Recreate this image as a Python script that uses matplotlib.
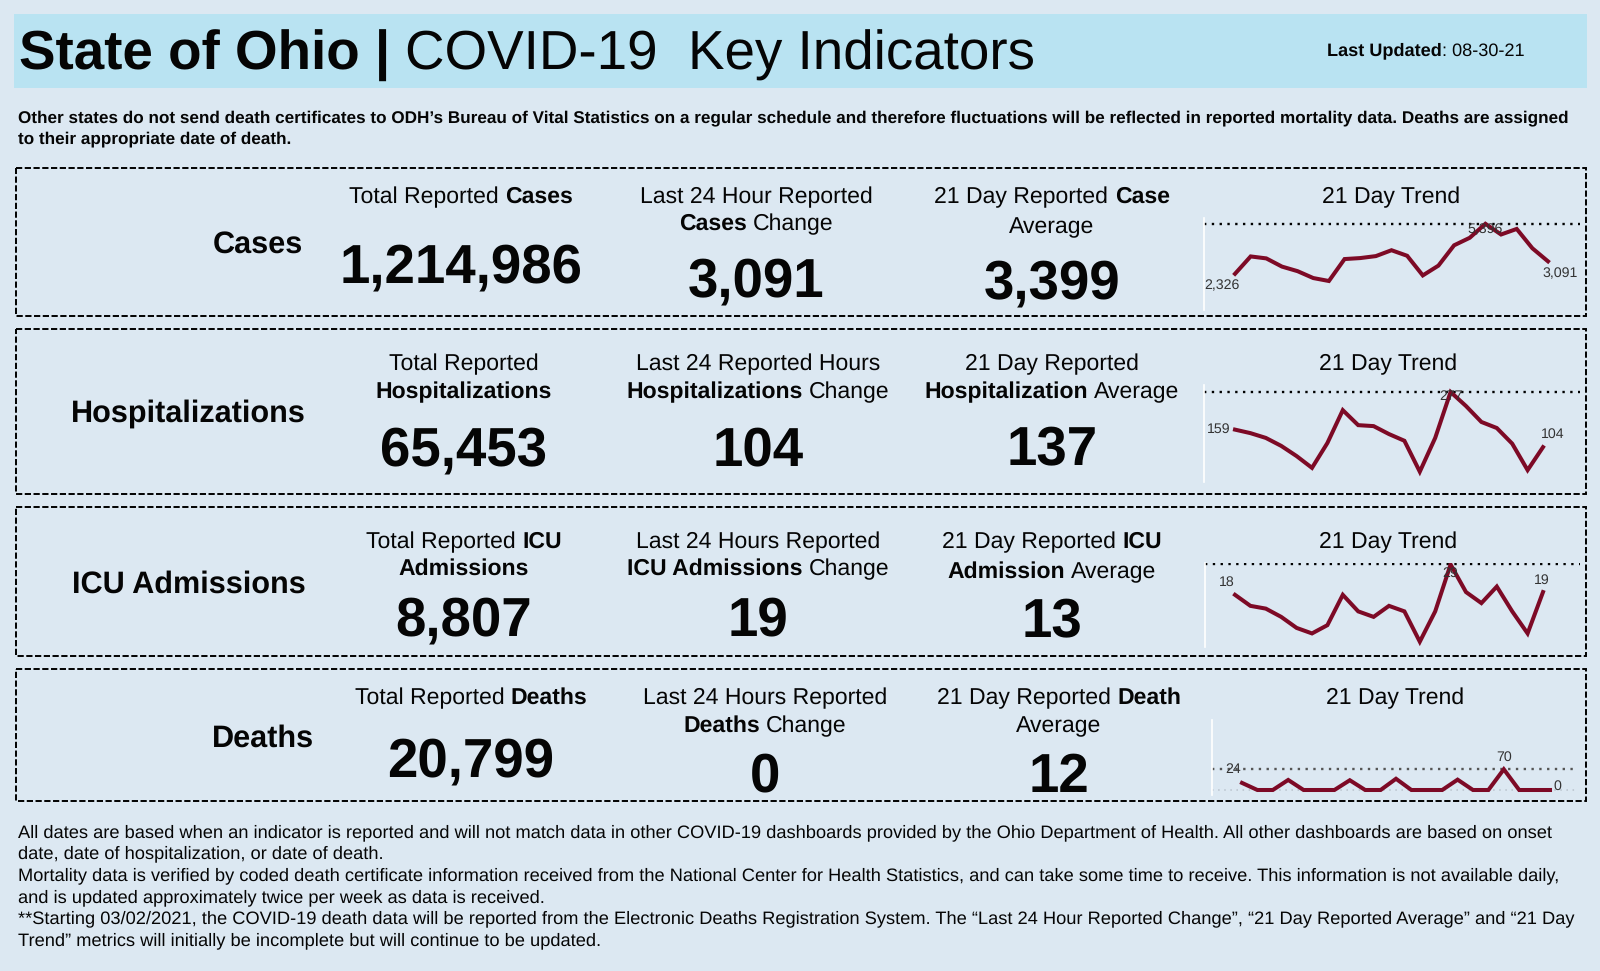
import matplotlib
matplotlib.use('Agg')
import matplotlib.pyplot as plt

plt.rcParams['font.family'] = ['Liberation Sans', 'DejaVu Sans']
plt.rcParams['text.hinting'] = 'no_hinting'

BG = '#dce8f2'
HEADER = '#b9e3f2'
INK = '#050505'
LINE = '#7d0a26'

# Data
cases_trend = [2326, 3393, 3272, 2769, 2488, 2066, 1885, 3232, 3292, 3413, 3774,
               3433, 2227, 2830, 4076, 4538, 5396, 4739, 5081, 3895, 3091]
hosp_trend = [159, 148, 133, 108, 76, 39, 117, 220, 173, 170, 145,
              124, 27, 133, 277, 233, 183, 164, 115, 32, 104]
icu_trend = [18, 14, 13, 10, 6, 4, 7, 18, 12, 10, 14,
             12, 1, 12, 29, 19, 15, 21, 12, 4, 19]
death_trend = [24, 0, 0, 34, 0, 0, 0, 33, 0, 0, 38,
               0, 0, 0, 35, 0, 0, 70, 0, 0, 0]

row_names = ['Cases', 'Hospitalizations', 'ICU Admissions', 'Deaths']
totals = ['1,214,986', '65,453', '8,807', '20,799']
changes = ['3,091', '104', '19', '0']
averages = ['3,399', '137', '13', '12']

total_titles = [
    [[('Total Reported', 0), ('Cases', 1)]],
    [[('Total Reported', 0)], [('Hospitalizations', 1)]],
    [[('Total Reported', 0), ('ICU', 1)], [('Admissions', 1)]],
    [[('Total Reported', 0), ('Deaths', 1)]],
]
change_titles = [
    [[('Last 24 Hour Reported', 0)], [('Cases', 1), ('Change', 0)]],
    [[('Last 24 Reported Hours', 0)], [('Hospitalizations', 1), ('Change', 0)]],
    [[('Last 24 Hours Reported', 0)], [('ICU Admissions', 1), ('Change', 0)]],
    [[('Last 24 Hours Reported', 0)], [('Deaths', 1), ('Change', 0)]],
]
avg_titles = [
    [[('21 Day Reported', 0), ('Case', 1)], [('Average', 0)]],
    [[('21 Day Reported', 0)], [('Hospitalization', 1), ('Average', 0)]],
    [[('21 Day Reported', 0), ('ICU', 1)], [('Admission', 1), ('Average', 0)]],
    [[('21 Day Reported', 0), ('Death', 1)], [('Average', 0)]],
]

sub_lines = [
    'Other states do not send death certificates to ODH’s Bureau of Vital Statistics on a regular schedule and therefore fluctuations will be reflected in reported mortality data. Deaths are assigned',
    'to their appropriate date of death.',
]
foot_lines = [
    'All dates are based when an indicator is reported and will not match data in other COVID-19 dashboards provided by the Ohio Department of Health. All other dashboards are based on onset',
    'date, date of hospitalization, or date of death.',
    'Mortality data is verified by coded death certificate information received from the National Center for Health Statistics, and can take some time to receive. This information is not available daily,',
    'and is updated approximately twice per week as data is received.',
    '**Starting 03/02/2021, the COVID-19 death data will be reported from the Electronic Deaths Registration System. The “Last 24 Hour Reported Change”, “21 Day Reported Average” and “21 Day',
    'Trend” metrics will initially be incomplete but will continue to be updated.',
]

# Layout, all in image pixels
frames = [(168, 316), (329, 494), (507, 656), (669, 801)]
label_pos = [(303, 242), (306, 411), (306, 582), (314, 736)]
col_x = [[461, 756, 1052, 1391], [464, 758, 1052, 1388], [464, 758, 1052, 1388], [471, 765, 1059, 1395]]
title_y = [[195, 222], [362, 390], [540, 567], [696, 724]]
avg_title_y = [[195, 225], [362, 390], [540, 570], [696, 724]]
value_y = [[263, 277, 279], [446, 446, 446], [616, 616, 618], [757, 772, 772]]
# left, right, first x, last x, top of max, bottom of min, axis top, axis bottom
spark_box = [
    (1204, 1580, 1235, 1548, 223.8, 281, 218, 310),
    (1204, 1580, 1235, 1543, 392, 471.7, 385, 482),
    (1205, 1580, 1235, 1543, 564.5, 641.7, 563, 647),
    (1212, 1578, 1242, 1550, 769.3, 790, 720, 795),
]
# pixel offsets (right, down) of the first, max and last labels from their points
spark_offsets = [
    [(-13, 12), (0, 6), (12, 12)],
    [(-16, 0), (0, 4), (10, -13)],
    [(-8, -13), (0, 9), (-1, -12)],
    [(-9, -14), (0, -12), (7, -4)],
]

W, H = 1600, 971
fig = plt.figure(figsize=(W / 100, H / 100), dpi=100, facecolor=BG)
ax = fig.add_axes([0, 0, 1, 1])
ax.set_xlim(0, W)
ax.set_ylim(H, 0)
ax.axis('off')
renderer = fig.canvas.get_renderer()


def draw_runs(x, yc, runs, size, ha='center'):
    # one line of mixed regular and bold text, yc is the middle of the capitals
    base = yc + 0.358 * size / 0.72
    gap = 0.278 * size / 0.72
    items = []
    total = 0
    for i, (txt, bold) in enumerate(runs):
        t = ax.text(0, base, txt, fontsize=size, fontweight='bold' if bold else 'normal',
                    color=INK, ha='left', va='baseline')
        w = t.get_window_extent(renderer).width
        if i > 0 and not txt.startswith(':'):
            total += gap
        items.append((t, total))
        total += w
    left = x - total / 2 if ha == 'center' else x
    for t, off in items:
        t.set_x(left + off)


# header band
ax.add_patch(plt.Rectangle((14, 14), 1573, 74, fc=HEADER, ec='none'))
draw_runs(19, 50, [('State of Ohio |', 1), ('COVID-19  Key Indicators', 0)], 39.4, ha='left')
draw_runs(1327, 49, [('Last Updated', 1), (': 08-30-21', 0)], 13.1, ha='left')

for i, line in enumerate(sub_lines):
    draw_runs(18.5, 116.5 + i * 20.5, [(line, 1)], 12.32, ha='left')

for i, line in enumerate(foot_lines):
    draw_runs(18.5, 830.5 + i * 21.6, [(line, 0)], 13.17, ha='left')

trends = [cases_trend, hosp_trend, icu_trend, death_trend]
for r, name in enumerate(row_names):
    top, bottom = frames[r]
    ax.add_patch(plt.Rectangle((15.5, top), 1570.5, bottom - top, fc='none', ec='black',
                               lw=1.4, ls=(0, (3.2, 1.3))))
    draw_runs(label_pos[r][0], label_pos[r][1], [(name, 1)], 22.1, ha='left')
    t = ax.texts[-1]
    t.set_ha('right')
    t.set_x(label_pos[r][0])

    for c, lines in enumerate([total_titles[r], change_titles[r], avg_titles[r]]):
        ys = avg_title_y[r] if c == 2 else title_y[r]
        for j, runs in enumerate(lines):
            draw_runs(col_x[r][c], ys[j], runs, 16.6)
    draw_runs(col_x[r][3], title_y[r][0], [('21 Day Trend', 0)], 16.6)

    for c, val in enumerate([totals[r], changes[r], averages[r]]):
        draw_runs(col_x[r][c], value_y[r][c], [(val, 1)], 39.3)

    # sparkline, scaled so the first/last index and min/max land on the box
    L, R, x0, x1, y_top, y_bot, T, B = spark_box[r]
    vals = trends[r]
    sp = fig.add_axes([L / W, 1 - B / H, (R - L) / W, (B - T) / H])
    sp.patch.set_alpha(0)
    step = (x1 - x0) / (len(vals) - 1)
    sp.set_xlim((L - x0) / step, (R - x0) / step)
    vmin, vmax = min(vals), max(vals)
    ppu = (y_bot - y_top) / (vmax - vmin)
    sp.set_ylim(vmin - (B - y_bot) / ppu, vmax + (y_top - T) / ppu)
    for s in ['top', 'right', 'bottom']:
        sp.spines[s].set_visible(False)
    sp.spines['left'].set_color('white')
    sp.spines['left'].set_linewidth(1.2)
    sp.set_xticks([])
    sp.set_yticks([])
    dot_col = '#555555' if r == 3 else 'black'
    sp.axhline(vmax, color=dot_col, lw=1.7, ls=(0, (1, 2.3)), zorder=1)
    if r == 3:
        sp.axhline(vmin, color='#b8c2cc', lw=1.1, ls=(0, (1, 3)), zorder=1)
    sp.plot(range(len(vals)), vals, color=LINE, lw=2.9, solid_joinstyle='miter', zorder=2)
    spots = [0, vals.index(vmax), len(vals) - 1]
    for k, idx in enumerate(spots):
        dx, dy = spark_offsets[r][k]
        sp.annotate(f'{vals[idx]:,}', (idx, vals[idx]), xytext=(dx, -dy), textcoords='offset pixels',
                    ha='center', va='center', fontsize=10.2, color='#333333', annotation_clip=False, zorder=3)

fig.savefig('out.png', dpi=100, facecolor=BG)
